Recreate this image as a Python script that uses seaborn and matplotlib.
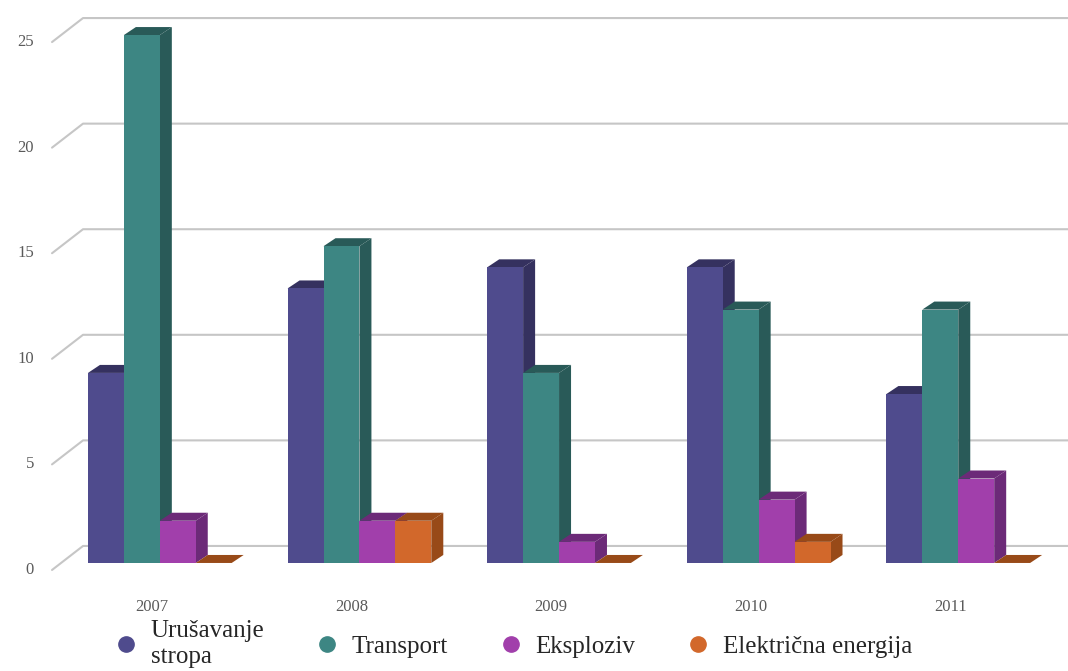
import numpy as np
import pandas as pd
import seaborn as sns
import matplotlib
matplotlib.use("Agg")
import matplotlib.pyplot as plt
from matplotlib.patches import Polygon
from matplotlib.lines import Line2D
from matplotlib.colors import to_hex
from matplotlib.transforms import ScaledTranslation, IdentityTransform

# data
years = ['2007', '2008', '2009', '2010', '2011']
series = ['Urušavanje stropa', 'Transport', 'Eksploziv', 'Električna energija']
urusavanje = [9, 13, 14, 14, 8]
transport = [25, 15, 9, 12, 12]
eksploziv = [2, 2, 1, 3, 4]
elektricna = [0, 2, 0, 1, 0]
y_ticks = [0, 5, 10, 15, 20, 25]

front_colors = ['#4f4b8d', '#3d8683', '#a13fab', '#d2682b']
side_colors = ['#35315f', '#295a58', '#6c2a78', '#984a18']

df = pd.DataFrame({'year': years, series[0]: urusavanje, series[1]: transport,
                   series[2]: eksploziv, series[3]: elektricna})
df_long = df.melt(id_vars='year', var_name='series', value_name='value')

# step 1: figure + axes
sns.set_style("white")
plt.rcParams["font.family"] = ["Liberation Serif", "DejaVu Serif"]

fig = plt.figure(figsize=(10.68, 6.71), dpi=100)
ax = fig.add_axes([0.0562, 0.161, 0.9345, 0.839])

sns.barplot(data=df_long, x='year', y='value', hue='series', order=years,
            hue_order=series, palette=dict(zip(series, front_colors)),
            width=0.72, linewidth=0, saturation=1, legend=False, ax=ax)

ax.set_xlim(-0.5, 4.5)
ax.set_ylim(0, 26.66)
for s in ax.spines.values():
    s.set_visible(False)
ax.set_xlabel("")
ax.set_ylabel("")
ax.set_yticks([])

# step 2: fake 3d depth on each bar
px_x = ax.bbox.width / 5.0
px_y = ax.bbox.height / 26.66
dx, dy = 12 / px_x, 8 / px_y
front_hex = [c.lower() for c in front_colors]
for p in ax.patches:
    x0, w, h = p.get_x(), p.get_width(), p.get_height()
    idx = front_hex.index(to_hex(p.get_facecolor()).lower())
    z = 2 + x0
    side = Polygon([(x0 + w, 0), (x0 + w + dx, dy), (x0 + w + dx, h + dy), (x0 + w, h)],
                   closed=True, facecolor=side_colors[idx], edgecolor='none', zorder=z)
    top = Polygon([(x0, h), (x0 + dx, h + dy), (x0 + w + dx, h + dy), (x0 + w, h)],
                  closed=True, facecolor=side_colors[idx], edgecolor='none', zorder=z)
    ax.add_patch(side)
    ax.add_patch(top)
    p.set_zorder(z + 0.001)
    top.set_clip_on(False)
    side.set_clip_on(False)

# step 3: back wall grid + left wall diagonals + y labels
fig_w = fig.bbox.width
for v in y_ticks:
    bx, by = ax.transData.transform((-0.5, v))
    ax.plot([bx - 8, bx + 23, fig_w], [by - 7, by + 17, by + 17],
            color='#c6c6c6', lw=1.5, transform=IdentityTransform(),
            clip_on=False, zorder=0.5)
    ax.text(bx - 26, by - 7, str(v), transform=IdentityTransform(),
            ha='right', va='center', fontsize=12, color='#5a5a5a')

# step 4: x labels
ax.tick_params(axis='x', length=0, pad=26, labelsize=12, labelcolor='#5a5a5a')
for lab in ax.get_xticklabels():
    lab.set_transform(lab.get_transform() + ScaledTranslation(-0.08, 0, fig.dpi_scale_trans))

# step 5: legend
handles = [Line2D([], [], marker='o', ls='', markersize=11,
                  markerfacecolor=c, markeredgecolor=c) for c in front_colors]
labels = ['Urušavanje\nstropa', 'Transport', 'Eksploziv', 'Električna energija']
fig.legend(handles, labels, ncol=4, loc='center', bbox_to_anchor=(0.48, 0.04),
           frameon=False, prop={'family': 'Liberation Serif', 'size': 18},
           handlelength=1.0, handletextpad=0.5, columnspacing=2.0)

fig.savefig("out.png", dpi=100)
